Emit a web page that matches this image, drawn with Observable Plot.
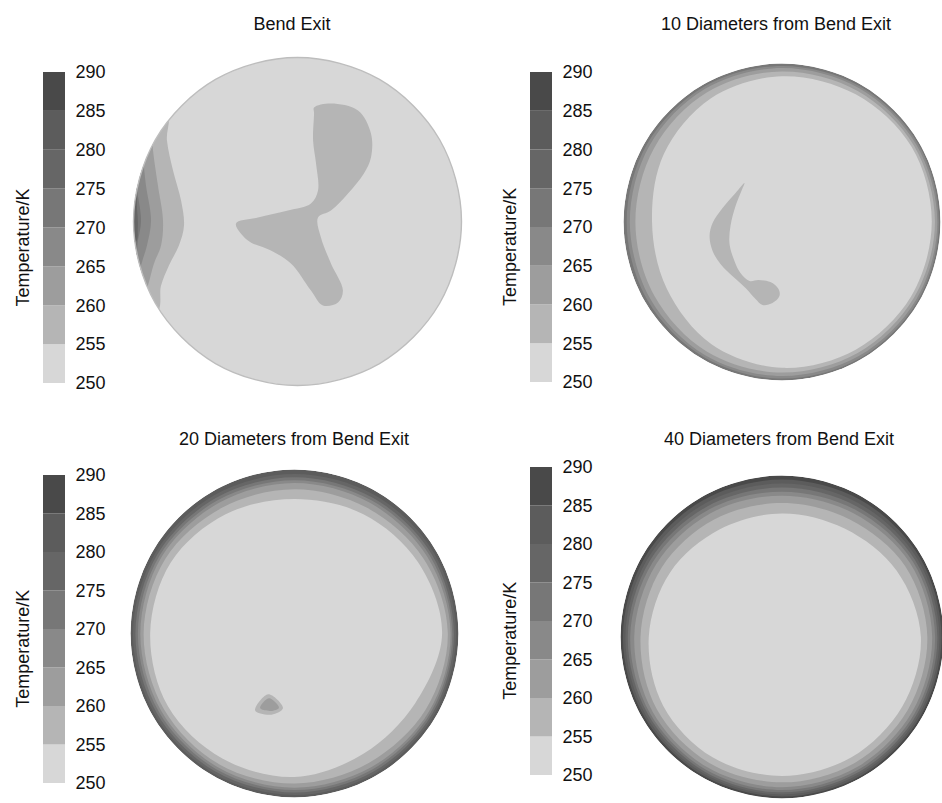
<!DOCTYPE html>
<html>
<head>
<meta charset="utf-8">
<script src="https://cdn.jsdelivr.net/npm/d3@7"></script>
<script src="https://cdn.jsdelivr.net/npm/@observablehq/plot@0.6"></script>
<style>
  html, body { margin: 0; padding: 0; background: #fff; overflow: hidden; }
  #chart { position: relative; width: 942px; height: 803px; overflow: hidden;
           font-family: "Liberation Sans", Arial, sans-serif; color: #111; }
  .title { position: absolute; font-size: 18px; white-space: nowrap; transform: translateX(-50%); }
  .abs { position: absolute; }
</style>
</head>
<body>
<div id="chart"></div>
<script>
// Temperature bands (K): lower bound of each 5 K band and its grey
const bandLevels = [250, 255, 260, 265, 270, 275, 280, 285];
const bandGreys  = ["#d7d7d7", "#b5b5b5", "#9d9d9d", "#898989", "#777777", "#666666", "#5c5c5c", "#494949"];
const tickValues = [250, 255, 260, 265, 270, 275, 280, 285, 290];

// Angles (deg, counter-clockwise from east) at which ring isotherms are sampled
const angles = [0, 30, 60, 90, 120, 150, 180, 210, 240, 270, 300, 330];

// ---- Bend exit: hot pocket on the left wall (isotherms as r/R coordinates) ----
const bendExitWallLevel = 250;
const bendExitHot255 = [[-1.3, 0.75], [-0.80, 0.68], [-0.796, 0.494], [-0.759, 0.311], [-0.710, 0.128], [-0.692, -0.024],
  [-0.723, -0.146], [-0.784, -0.268], [-0.832, -0.390], [-0.86, -0.56], [-1.3, -0.62]];
const bendExitHot260 = [[-1.3, 0.7], [-0.893, 0.616], [-0.881, 0.433], [-0.851, 0.220], [-0.820, 0.006], [-0.832, -0.146],
  [-0.875, -0.256], [-0.912, -0.390], [-0.96, -0.52], [-1.3, -0.55]];
const bendExitHot265 = [[-1.3, 0.55], [-0.966, 0.494], [-0.942, 0.372], [-0.924, 0.220], [-0.893, 0.006], [-0.918, -0.146],
  [-0.954, -0.268], [-0.985, -0.421], [-1.3, -0.45]];
const bendExitHot270 = [[-1.3, 0.35], [-1.003, 0.311], [-0.979, 0.189], [-0.954, 0.006], [-0.973, -0.116], [-1.003, -0.250], [-1.3, -0.28]];
const bendExitHot275 = [[-1.3, 0.22], [-1.0, 0.19], [-0.978, 0.07], [-0.974, -0.04], [-0.99, -0.13], [-1.3, -0.16]];
// warmer core region (255-260 K) in the middle of the section
const bendExitCore255 = [[0.101, 0.695], [0.204, 0.720], [0.369, 0.677], [0.448, 0.537], [0.448, 0.390], [0.405, 0.293],
  [0.308, 0.171], [0.204, 0.067], [0.125, 0.024], [0.143, -0.098], [0.204, -0.256], [0.277, -0.421], [0.247, -0.494],
  [0.155, -0.512], [0.082, -0.421], [-0.040, -0.256], [-0.162, -0.177], [-0.302, -0.116], [-0.375, -0.012], [-0.241, 0.024],
  [-0.058, 0.067], [0.082, 0.110], [0.125, 0.189], [0.113, 0.354], [0.095, 0.494], [0.101, 0.659]];

// ---- 10 diameters: wall rings (r/R at each angle) and C-shaped core ----
const tenDWallLevel = 270;
const tenDRing270 = [0.99, 0.99, 0.988, 0.985, 0.985, 0.983, 0.98, 0.982, 0.985, 0.988, 0.99, 0.99];
const tenDRing265 = [0.98, 0.978, 0.975, 0.972, 0.97, 0.965, 0.96, 0.962, 0.97, 0.972, 0.975, 0.978];
const tenDRing260 = [0.965, 0.962, 0.955, 0.95, 0.945, 0.932, 0.925, 0.93, 0.945, 0.95, 0.955, 0.96];
const tenDRing255 = [0.945, 0.945, 0.93, 0.92, 0.9, 0.86, 0.82, 0.84, 0.89, 0.92, 0.93, 0.94];
const tenDCore255 = [[-0.237, 0.246], [-0.293, 0.183], [-0.375, 0.088], [-0.438, -0.006], [-0.457, -0.088], [-0.438, -0.183],
  [-0.388, -0.265], [-0.306, -0.347], [-0.230, -0.416], [-0.167, -0.486], [-0.123, -0.524], [-0.060, -0.511], [-0.016, -0.467],
  [-0.022, -0.423], [-0.073, -0.379], [-0.148, -0.366], [-0.205, -0.372], [-0.262, -0.322], [-0.300, -0.246], [-0.331, -0.139],
  [-0.325, -0.025], [-0.293, 0.101], [-0.256, 0.196]];

// ---- 20 diameters ----
const twentyDWallLevel = 280;
const twentyDRing280 = [0.985, 0.982, 0.975, 0.972, 0.975, 0.98, 0.985, 0.985, 0.985, 0.985, 0.985, 0.985];
const twentyDRing275 = [0.972, 0.966, 0.955, 0.952, 0.955, 0.965, 0.97, 0.97, 0.97, 0.97, 0.97, 0.972];
const twentyDRing270 = [0.962, 0.952, 0.938, 0.935, 0.938, 0.95, 0.955, 0.955, 0.955, 0.955, 0.955, 0.96];
const twentyDRing265 = [0.952, 0.935, 0.92, 0.918, 0.92, 0.935, 0.94, 0.94, 0.94, 0.94, 0.94, 0.948];
const twentyDRing260 = [0.935, 0.91, 0.885, 0.88, 0.885, 0.91, 0.92, 0.92, 0.92, 0.915, 0.91, 0.925];
const twentyDRing255 = [0.9, 0.87, 0.84, 0.82, 0.84, 0.87, 0.88, 0.89, 0.88, 0.875, 0.845, 0.85];
const twentyDSpot255 = [[-0.24, -0.47], [-0.16, -0.37], [-0.07, -0.455], [-0.14, -0.495]];
const twentyDSpot260 = [[-0.21, -0.455], [-0.155, -0.395], [-0.095, -0.452], [-0.145, -0.472]];

// ---- 40 diameters ----
const fortyDWallLevel = 285;
const fortyDRing285 = [0.988, 0.985, 0.978, 0.975, 0.978, 0.982, 0.985, 0.986, 0.987, 0.988, 0.988, 0.988];
const fortyDRing280 = [0.975, 0.968, 0.955, 0.95, 0.955, 0.963, 0.97, 0.972, 0.974, 0.975, 0.975, 0.975];
const fortyDRing275 = [0.962, 0.952, 0.932, 0.925, 0.932, 0.945, 0.955, 0.958, 0.961, 0.962, 0.962, 0.962];
const fortyDRing270 = [0.948, 0.935, 0.91, 0.9, 0.91, 0.925, 0.94, 0.944, 0.947, 0.948, 0.948, 0.948];
const fortyDRing265 = [0.93, 0.915, 0.885, 0.875, 0.885, 0.9, 0.915, 0.925, 0.93, 0.93, 0.93, 0.93];
const fortyDRing260 = [0.9, 0.88, 0.84, 0.83, 0.84, 0.86, 0.876, 0.895, 0.9, 0.9, 0.9, 0.9];
const fortyDRing255 = [0.86, 0.82, 0.775, 0.765, 0.77, 0.8, 0.825, 0.85, 0.86, 0.86, 0.86, 0.86];

// ---------------------------------------------------------------------------
const colorScale = {type: "threshold", domain: bandLevels.slice(1), range: bandGreys};
const font = `"Liberation Sans", Arial, sans-serif`;

let uid = 0;
const wallRadius = angles.map(() => 1);
function ring(level, radii) {
  const id = uid++;
  return angles.map((a, i) => ({id, level,
    x: radii[i] * Math.cos(a * Math.PI / 180), y: radii[i] * Math.sin(a * Math.PI / 180)}));
}
function shape(level, pts) {
  const id = uid++;
  return pts.map(([x, y]) => ({id, level, x, y}));
}

const sections = [
  {title: "Bend Exit",
   regions: [ring(bendExitWallLevel, wallRadius), shape(255, bendExitHot255), shape(260, bendExitHot260),
             shape(265, bendExitHot265), shape(270, bendExitHot270), shape(275, bendExitHot275),
             shape(255, bendExitCore255)],
   rim: true},
  {title: "10 Diameters from Bend Exit",
   regions: [ring(tenDWallLevel, wallRadius), ring(265, tenDRing270), ring(260, tenDRing265),
             ring(255, tenDRing260), ring(250, tenDRing255), shape(255, tenDCore255)]},
  {title: "20 Diameters from Bend Exit",
   regions: [ring(twentyDWallLevel, wallRadius), ring(275, twentyDRing280), ring(270, twentyDRing275),
             ring(265, twentyDRing270), ring(260, twentyDRing265), ring(255, twentyDRing260),
             ring(250, twentyDRing255), shape(255, twentyDSpot255), shape(260, twentyDSpot260)]},
  {title: "40 Diameters from Bend Exit",
   regions: [ring(fortyDWallLevel, wallRadius), ring(280, fortyDRing285), ring(275, fortyDRing280),
             ring(270, fortyDRing275), ring(265, fortyDRing270), ring(260, fortyDRing265),
             ring(255, fortyDRing260), ring(250, fortyDRing255)]}
];

// page layout of each panel (px)
const layout = [
  {titleX: 292, titleY: 14, barLeft: 0,   barTop: 52,  barLen: 311, discX: 296.5, discY: 221,   discR: 164},
  {titleX: 776, titleY: 14, barLeft: 487, barTop: 52,  barLen: 310, discX: 781.5, discY: 221,   discR: 158.5},
  {titleX: 294, titleY: 429, barLeft: 0,   barTop: 455, barLen: 308, discX: 293.5, discY: 632.5, discR: 164},
  {titleX: 779, titleY: 429, barLeft: 487, barTop: 447, barLen: 308, discX: 781.5, discY: 636.5, discR: 161.5}
];

const chart = document.getElementById("chart");

function place(node, left, top) {
  node.classList.add("abs");
  node.style.left = left + "px";
  node.style.top = top + "px";
  chart.appendChild(node);
}

function colorbar(L) {
  return Plot.plot({
    width: 115, height: L.barLen + 40,
    marginTop: 20, marginBottom: 20, marginLeft: 43, marginRight: 50,
    style: {fontFamily: font, fontSize: "18px", color: "#111", background: "transparent", overflow: "visible"},
    x: {domain: [0, 1], axis: null},
    y: {domain: [250, 290], axis: null},
    color: colorScale,
    marks: [
      Plot.rect(bandLevels, {x1: 0, x2: 1, y1: d => d, y2: d => d + 5, fill: d => d}),
      Plot.axisY(tickValues, {anchor: "right", tickSize: 0, tickPadding: 10, label: null, fontSize: 18}),
      Plot.text(["Temperature/K"], {frameAnchor: "left", textAnchor: "middle", y: () => 267.5, dx: -20,
                                     rotate: -90, fontSize: 18, fill: "#111"})
    ]
  });
}

function disc(section, L, n) {
  const rows = section.regions.flat();
  const size = 2 * L.discR + 4;
  const plot = Plot.plot({
    width: size, height: size, margin: 2,
    style: {background: "transparent"},
    x: {domain: [-1, 1], axis: null},
    y: {domain: [-1, 1], axis: null},
    color: colorScale,
    marks: [
      Plot.line(rows, {x: "x", y: "y", z: "id", fill: "level", stroke: "none", curve: "catmull-rom-closed"}),
      section.rim
        ? Plot.line(section.regions[0], {x: "x", y: "y", fill: "none", stroke: "#bdbdbd", strokeWidth: 1.4, curve: "catmull-rom-closed"})
        : null
    ]
  });
  // clip the isotherm fills to the pipe wall (r/R = 1)
  const sx = plot.scale("x"), sy = plot.scale("y");
  const svg = d3.select(plot);
  const id = "pipe-wall-" + n;
  svg.append("defs").append("clipPath").attr("id", id)
    .append("circle")
    .attr("cx", sx.apply(0)).attr("cy", sy.apply(0))
    .attr("r", Math.abs(sx.apply(1) - sx.apply(0)));
  svg.select('g[aria-label="line"]').attr("clip-path", `url(#${id})`);
  return plot;
}

sections.forEach((s, i) => {
  const L = layout[i];
  const t = document.createElement("div");
  t.className = "title";
  t.textContent = s.title;
  t.style.left = L.titleX + "px";
  t.style.top = L.titleY + "px";
  chart.appendChild(t);

  place(colorbar(L), L.barLeft, L.barTop);
  place(disc(s, L, i), L.discX - L.discR - 2, L.discY - L.discR - 2);
});
</script>
</body>
</html>
